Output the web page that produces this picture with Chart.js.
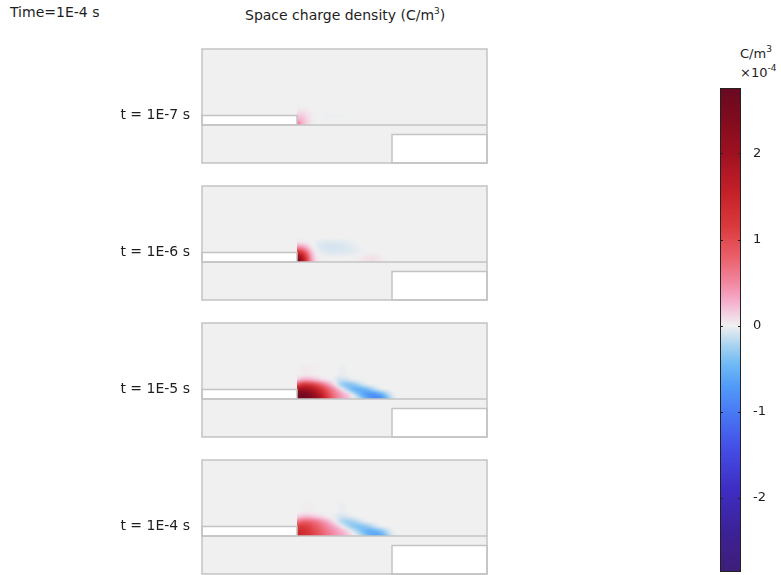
<!DOCTYPE html>
<html>
<head>
<meta charset="utf-8">
<script src="https://cdn.jsdelivr.net/npm/chart.js@4/dist/chart.umd.min.js"></script>
<style>
  html, body { margin: 0; padding: 0; background: #ffffff; }
  body { width: 781px; height: 575px; position: relative; overflow: hidden;
         font-family: "DejaVu Sans", sans-serif; color: #1e1e1e; }
  .txt { position: absolute; white-space: nowrap; line-height: 1; font-size: 14px; }
  .txt sup { font-size: 9px; vertical-align: 6px; line-height: 0; }
  canvas { position: absolute; }
</style>
</head>
<body>
<div class="txt" style="left:10px; top:5px;">Time=1E-4 s</div>
<div class="txt" style="left:245px; top:8px;">Space charge density (C/m<sup>3</sup>)</div>
<div class="txt" style="left:740px; top:47px; font-size:13px;">C/m<sup>3</sup></div>
<div class="txt" style="left:740px; top:66px; font-size:13px;">×10<sup>-4</sup></div>

<canvas id="panel0" width="396" height="126" style="left:100px; top:43px;"></canvas>
<canvas id="panel1" width="396" height="126" style="left:100px; top:180px;"></canvas>
<canvas id="panel2" width="396" height="126" style="left:100px; top:317px;"></canvas>
<canvas id="panel3" width="396" height="126" style="left:100px; top:454px;"></canvas>
<canvas id="colorbar" width="81" height="552" style="left:700px; top:40px;"></canvas>

<script>
// Snapshot times shown in the four panels
const timeLabels = ['t = 1E-7 s', 't = 1E-6 s', 't = 1E-5 s', 't = 1E-4 s'];

// Sampling grid of the space charge near the electrode edge (geometry units)
const gridX = [10, 10.5, 11, 11.5, 12, 12.5, 13, 13.5, 14, 14.5, 15, 15.5,
               16, 16.5, 17, 17.5, 18, 18.5, 19, 19.5, 20, 20.5, 21];
const gridY = [6.5, 6, 5.5, 5, 4.5, 4];   // rows from top to bottom

// Space charge density, units of 1E-4 C/m^3, one row per gridY entry
const rhoT1E7 = [
  [0,0,0,0,0,0,0,0,0,0,0,0,0,0,0,0,0,0,0,0,0,0,0],
  [0,0,0,0,0,0,0,0,0,0,0,0,0,0,0,0,0,0,0,0,0,0,0],
  [0.04,0.06,0.04,0.01,0,0,0,0,0,0,0,0,0,0,0,0,0,0,0,0,0,0,0],
  [0.16,0.18,0.1,0.03,0,0,-0.01,-0.015,-0.015,-0.015,-0.01,0,0,0,0,0,0,0,0,0,0,0,0],
  [0.3,0.26,0.14,0.04,0,0,0,0,0,0,0,0,0,0,0,0,0,0,0,0,0,0,0],
  [0.9,0.3,0.12,0.03,0,0,0,0,0,0,0,0,0,0,0,0,0,0,0,0,0,0,0]
];
const rhoT1E6 = [
  [0,0,0,0,0,0,0,0,0,0,0,0,0,0,0,0,0,0,0,0,0,0,0],
  [0.05,0.06,0.03,0,-0.03,-0.06,-0.07,-0.07,-0.07,-0.06,-0.05,-0.03,-0.01,0,0,0,0,0,0,0,0,0,0],
  [0.5,0.5,0.28,0.06,-0.03,-0.07,-0.09,-0.09,-0.09,-0.08,-0.07,-0.06,-0.04,-0.02,0,0,0,0,0,0,0,0,0],
  [1.4,1.25,0.75,0.22,0.01,-0.03,-0.05,-0.06,-0.06,-0.06,-0.06,-0.05,-0.04,-0.03,-0.01,0,0,0,0,0,0,0,0],
  [2.3,1.9,1.1,0.35,0.05,0,0,0,0,0,0,0,0,0.02,0.04,0.07,0.08,0.06,0.02,0,0,0,0],
  [2.7,2.1,1.2,0.4,0.08,0.02,0,0,0,0,0,0,0,0.02,0.04,0.07,0.07,0.05,0.02,0,0,0,0]
];
const rhoT1E5 = [
  [0,0.02,0.03,0.02,0.01,0,0,0,0,-0.02,-0.02,0,0,0,0,0,0,0,0,0,0,0,0],
  [0.12,0.28,0.33,0.28,0.2,0.1,0.04,0,-0.05,-0.12,-0.12,-0.06,-0.01,0,0,0,0,0,0,0,0,0,0],
  [0.9,1.3,1.35,1.25,1.05,0.8,0.55,0.3,0.05,-0.25,-0.4,-0.42,-0.35,-0.2,-0.06,0,0,0,0,0,0,0,0],
  [2.0,2.1,2.0,1.85,1.6,1.3,1.0,0.7,0.45,0.2,-0.1,-0.35,-0.55,-0.6,-0.55,-0.42,-0.22,-0.06,0,0,0,0,0],
  [2.6,2.6,2.5,2.3,2.0,1.65,1.2,0.85,0.6,0.42,0.28,0.14,-0.12,-0.4,-0.65,-0.8,-0.82,-0.72,-0.5,-0.22,-0.05,0,0],
  [2.8,2.7,2.6,2.45,2.2,1.9,1.4,0.95,0.65,0.45,0.3,0.18,0.06,-0.1,-0.35,-0.62,-0.85,-0.92,-0.78,-0.45,-0.12,0,0]
];
const rhoT1E4 = [
  [0,0.01,0.02,0.01,0,0,0,0,0,-0.02,-0.02,0,0,0,0,0,0,0,0,0,0,0,0],
  [0.1,0.22,0.25,0.22,0.16,0.1,0.04,0,-0.04,-0.09,-0.09,-0.05,-0.01,0,0,0,0,0,0,0,0,0,0],
  [0.6,0.8,0.85,0.78,0.68,0.53,0.38,0.2,0.03,-0.17,-0.28,-0.3,-0.25,-0.14,-0.04,0,0,0,0,0,0,0,0],
  [1.15,1.2,1.15,1.0,0.85,0.7,0.55,0.42,0.3,0.14,-0.07,-0.25,-0.38,-0.42,-0.38,-0.3,-0.15,-0.04,0,0,0,0,0],
  [1.4,1.35,1.25,1.1,0.95,0.8,0.65,0.52,0.42,0.32,0.22,0.1,-0.08,-0.28,-0.45,-0.56,-0.58,-0.5,-0.35,-0.15,-0.03,0,0],
  [1.5,1.4,1.3,1.15,1.0,0.85,0.7,0.58,0.46,0.36,0.27,0.15,0.05,-0.07,-0.25,-0.44,-0.6,-0.65,-0.55,-0.32,-0.08,0,0]
];
const panelData = [rhoT1E7, rhoT1E6, rhoT1E5, rhoT1E4];

// Colour legend range and ticks (1E-4 C/m^3)
const colorbarMin = -2.86;
const colorbarMax = 2.76;
const colorbarTicks = [-2, -1, 0, 1, 2];

// Geometry: [xMin, xMax, yMin, yMax]
const domainBox = [0, 30, 0, 12];
const dielectricTop = 4;
const exposedElectrode = [0, 10, 4, 5];
const buriedElectrode = [20, 30, 0, 3];

// Diverging red/blue colour table
const colorStops = [
  [-2.86, 62, 30, 120], [-2.4, 60, 33, 150], [-1.9, 62, 45, 195], [-1.4, 68, 80, 230],
  [-1.0, 72, 122, 245], [-0.7, 82, 155, 248], [-0.45, 110, 185, 245], [-0.22, 170, 212, 240],
  [-0.07, 218, 230, 240], [0, 240, 240, 240], [0.1, 243, 218, 230], [0.28, 245, 175, 205],
  [0.5, 242, 135, 160], [0.8, 234, 95, 105], [1.15, 218, 58, 60], [1.55, 196, 32, 40],
  [2.0, 158, 17, 32], [2.4, 128, 11, 30], [2.76, 104, 9, 32]
];

function colorAt(v) {
  const s = colorStops;
  if (v <= s[0][0]) return [s[0][1], s[0][2], s[0][3]];
  for (let i = 1; i < s.length; i++) {
    if (v <= s[i][0]) {
      const a = s[i - 1], b = s[i];
      const t = (v - a[0]) / (b[0] - a[0]);
      return [a[1] + (b[1] - a[1]) * t, a[2] + (b[2] - a[2]) * t, a[3] + (b[3] - a[3]) * t];
    }
  }
  const l = s[s.length - 1];
  return [l[1], l[2], l[3]];
}
function css(c) { return 'rgb(' + c.map(Math.round).join(',') + ')'; }

function sampleField(rho, xv, yv) {
  const nx = gridX.length, ny = gridY.length;
  let fx = (xv - gridX[0]) / (gridX[1] - gridX[0]);
  let fy = (gridY[0] - yv) / (gridY[0] - gridY[1]);
  fx = Math.min(Math.max(fx, 0), nx - 1);
  fy = Math.min(Math.max(fy, 0), ny - 1);
  const i0 = Math.floor(fx), j0 = Math.floor(fy);
  const i1 = Math.min(i0 + 1, nx - 1), j1 = Math.min(j0 + 1, ny - 1);
  const tx = fx - i0, ty = fy - j0;
  const top = rho[j0][i0] * (1 - tx) + rho[j0][i1] * tx;
  const bot = rho[j1][i0] * (1 - tx) + rho[j1][i1] * tx;
  return top * (1 - ty) + bot * ty;
}

const lineColor = '#c3c3c3';

// Draws the geometry and the charge density surface of one snapshot
const surfacePlot = {
  id: 'surfacePlot',
  afterDraw(chart, args, opts) {
    const ctx = chart.ctx;
    const sx = chart.scales.x, sy = chart.scales.y;
    const X = v => sx.getPixelForValue(v), Y = v => sy.getPixelForValue(v);
    const rect = b => [X(b[0]), Y(b[3]), X(b[1]) - X(b[0]), Y(b[2]) - Y(b[3])];

    ctx.save();
    ctx.fillStyle = css(colorAt(0));
    ctx.fillRect(...rect(domainBox));

    // density surface, rasterised through the scales
    const px0 = Math.floor(X(9)), px1 = Math.ceil(X(22.5));
    const py0 = Math.floor(Y(7.5)), py1 = Math.ceil(Y(3.3));
    const w = px1 - px0, h = py1 - py0;
    const off = document.createElement('canvas');
    off.width = w; off.height = h;
    const octx = off.getContext('2d');
    const img = octx.createImageData(w, h);
    for (let j = 0; j < h; j++) {
      const yv = sy.getValueForPixel(py0 + j + 0.5);
      for (let i = 0; i < w; i++) {
        const xv = sx.getValueForPixel(px0 + i + 0.5);
        const c = colorAt(sampleField(opts.values, xv, yv));
        const k = (j * w + i) * 4;
        img.data[k] = c[0]; img.data[k + 1] = c[1]; img.data[k + 2] = c[2]; img.data[k + 3] = 255;
      }
    }
    octx.putImageData(img, 0, 0);
    ctx.save();
    ctx.beginPath();
    ctx.rect(X(exposedElectrode[1]), Y(domainBox[3]),
             X(domainBox[1]) - X(exposedElectrode[1]), Y(dielectricTop) - Y(domainBox[3]));
    ctx.clip();
    ctx.filter = 'blur(1.8px)';
    ctx.drawImage(off, px0, py0);
    ctx.restore();

    // electrodes
    ctx.fillStyle = '#ffffff';
    ctx.fillRect(...rect(exposedElectrode));
    ctx.fillRect(...rect(buriedElectrode));

    ctx.strokeStyle = lineColor;
    ctx.lineWidth = 1.5;
    ctx.strokeRect(...rect(exposedElectrode));
    ctx.strokeRect(...rect(buriedElectrode));
    ctx.beginPath();
    ctx.moveTo(X(domainBox[0]), Y(dielectricTop));
    ctx.lineTo(X(domainBox[1]), Y(dielectricTop));
    ctx.stroke();
    ctx.strokeRect(...rect(domainBox));

    // snapshot label
    ctx.fillStyle = '#1e1e1e';
    ctx.font = '14px "DejaVu Sans"';
    ctx.textAlign = 'right';
    ctx.textBaseline = 'middle';
    ctx.fillText(opts.label, X(domainBox[0]) - 12, Y(exposedElectrode[3]));
    ctx.restore();
  }
};

panelData.forEach((rho, k) => {
  new Chart(document.getElementById('panel' + k), {
    type: 'scatter',
    data: { datasets: [] },
    options: {
      responsive: false,
      animation: false,
      events: [],
      layout: { padding: { left: 102, right: 9, top: 6, bottom: 6 } },
      scales: {
        x: { type: 'linear', min: domainBox[0], max: domainBox[1], display: false },
        y: { type: 'linear', min: domainBox[2], max: domainBox[3], display: false }
      },
      plugins: {
        legend: { display: false },
        tooltip: { enabled: false },
        surfacePlot: { values: rho, label: timeLabels[k] }
      }
    },
    plugins: [surfacePlot]
  });
});

// Colour legend bar
const colorLegend = {
  id: 'colorLegend',
  afterDraw(chart) {
    const ctx = chart.ctx, a = chart.chartArea, sy = chart.scales.y;
    ctx.save();
    for (let py = Math.floor(a.top); py < Math.ceil(a.bottom); py++) {
      ctx.fillStyle = css(colorAt(sy.getValueForPixel(py + 0.5)));
      ctx.fillRect(a.left, py, a.right - a.left, 1);
    }
    ctx.strokeStyle = '#222222';
    ctx.lineWidth = 1;
    ctx.strokeRect(a.left + 0.5, a.top + 0.5, a.right - a.left - 1, a.bottom - a.top - 1);
    ctx.beginPath();
    colorbarTicks.forEach(v => {
      const p = Math.round(sy.getPixelForValue(v)) + 0.5;
      ctx.moveTo(a.left, p); ctx.lineTo(a.left + 3, p);
      ctx.moveTo(a.right - 3, p); ctx.lineTo(a.right, p);
    });
    ctx.stroke();
    ctx.restore();
  }
};

new Chart(document.getElementById('colorbar'), {
  type: 'scatter',
  data: { datasets: [] },
  options: {
    responsive: false,
    animation: false,
    events: [],
    layout: { padding: { left: 20, right: 0, top: 48, bottom: 20 } },
    scales: {
      x: { type: 'linear', min: 0, max: 1, display: false },
      y: {
        type: 'linear',
        position: 'right',
        min: colorbarMin,
        max: colorbarMax,
        grid: { display: false, drawTicks: false },
        border: { display: false },
        afterBuildTicks: s => { s.ticks = colorbarTicks.map(v => ({ value: v })); },
        afterFit: s => { s.width = 40; },
        ticks: {
          padding: 12,
          color: '#1e1e1e',
          font: { family: 'DejaVu Sans', size: 13 },
          callback: v => String(v)
        }
      }
    },
    plugins: { legend: { display: false }, tooltip: { enabled: false } }
  },
  plugins: [colorLegend]
});
</script>
</body>
</html>
